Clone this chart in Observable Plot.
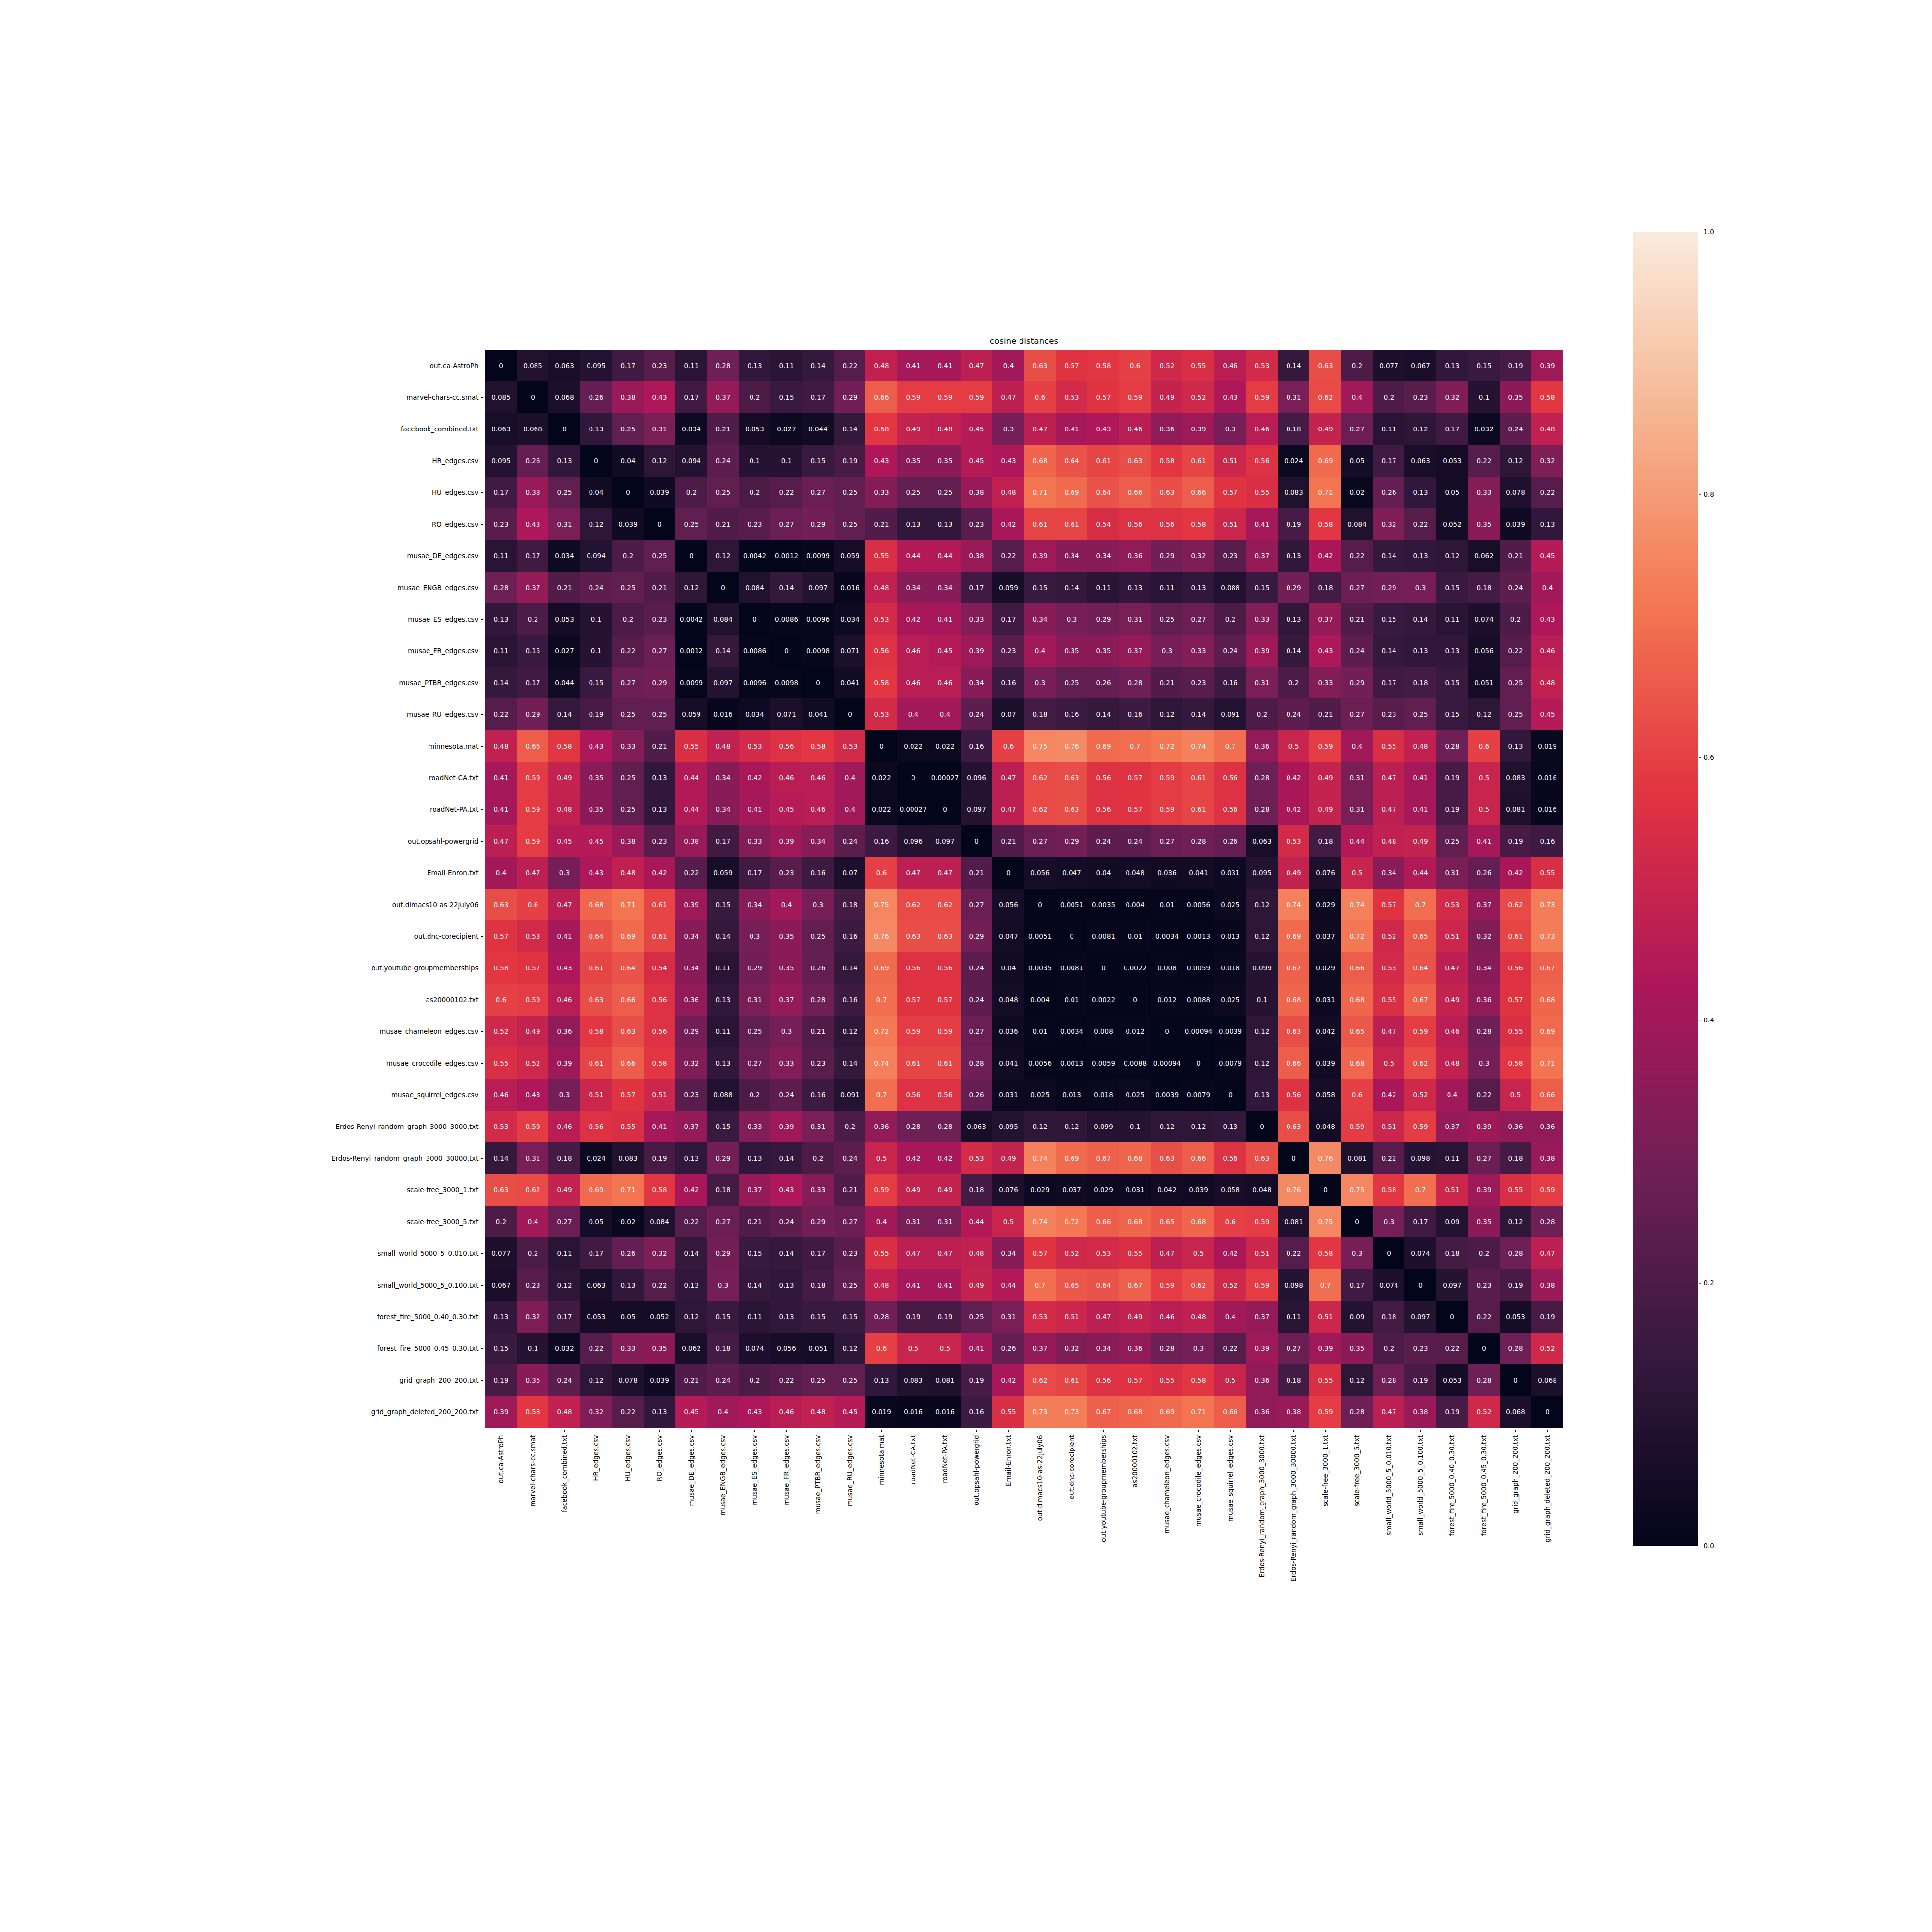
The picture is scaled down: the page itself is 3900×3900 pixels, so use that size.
<!DOCTYPE html>
<html>
<head>
<meta charset="utf-8">
<script src="https://cdn.jsdelivr.net/npm/d3@7"></script>
<script src="https://cdn.jsdelivr.net/npm/@observablehq/plot@0.6"></script>
<style>
  html, body { margin: 0; padding: 0; background: white; }
  #wrap { position: relative; width: 3900px; height: 3900px; background: white; }
  #wrap > svg { position: absolute; }
</style>
</head>
<body>
<div id="wrap"></div>
<script>
const title = "cosine distances";

const labels = [
  "out.ca-AstroPh", "marvel-chars-cc.smat", "facebook_combined.txt", "HR_edges.csv",
  "HU_edges.csv", "RO_edges.csv", "musae_DE_edges.csv", "musae_ENGB_edges.csv",
  "musae_ES_edges.csv", "musae_FR_edges.csv", "musae_PTBR_edges.csv", "musae_RU_edges.csv",
  "minnesota.mat", "roadNet-CA.txt", "roadNet-PA.txt", "out.opsahl-powergrid",
  "Email-Enron.txt", "out.dimacs10-as-22july06", "out.dnc-corecipient", "out.youtube-groupmemberships",
  "as20000102.txt", "musae_chameleon_edges.csv", "musae_crocodile_edges.csv", "musae_squirrel_edges.csv",
  "Erdos-Renyi_random_graph_3000_3000.txt", "Erdos-Renyi_random_graph_3000_30000.txt",
  "scale-free_3000_1.txt", "scale-free_3000_5.txt", "small_world_5000_5_0.010.txt",
  "small_world_5000_5_0.100.txt", "forest_fire_5000_0.40_0.30.txt", "forest_fire_5000_0.45_0.30.txt",
  "grid_graph_200_200.txt", "grid_graph_deleted_200_200.txt"
];

const distances = [
  [0, 0.085, 0.063, 0.095, 0.17, 0.23, 0.11, 0.28, 0.13, 0.11, 0.14, 0.22, 0.48, 0.41, 0.41, 0.47, 0.4, 0.63, 0.57, 0.58, 0.6, 0.52, 0.55, 0.46, 0.53, 0.14, 0.63, 0.2, 0.077, 0.067, 0.13, 0.15, 0.19, 0.39],
  [0.085, 0, 0.068, 0.26, 0.38, 0.43, 0.17, 0.37, 0.2, 0.15, 0.17, 0.29, 0.66, 0.59, 0.59, 0.59, 0.47, 0.6, 0.53, 0.57, 0.59, 0.49, 0.52, 0.43, 0.59, 0.31, 0.62, 0.4, 0.2, 0.23, 0.32, 0.1, 0.35, 0.58],
  [0.063, 0.068, 0, 0.13, 0.25, 0.31, 0.034, 0.21, 0.053, 0.027, 0.044, 0.14, 0.58, 0.49, 0.48, 0.45, 0.3, 0.47, 0.41, 0.43, 0.46, 0.36, 0.39, 0.3, 0.46, 0.18, 0.49, 0.27, 0.11, 0.12, 0.17, 0.032, 0.24, 0.48],
  [0.095, 0.26, 0.13, 0, 0.04, 0.12, 0.094, 0.24, 0.1, 0.1, 0.15, 0.19, 0.43, 0.35, 0.35, 0.45, 0.43, 0.68, 0.64, 0.61, 0.63, 0.58, 0.61, 0.51, 0.56, 0.024, 0.69, 0.05, 0.17, 0.063, 0.053, 0.22, 0.12, 0.32],
  [0.17, 0.38, 0.25, 0.04, 0, 0.039, 0.2, 0.25, 0.2, 0.22, 0.27, 0.25, 0.33, 0.25, 0.25, 0.38, 0.48, 0.71, 0.69, 0.64, 0.66, 0.63, 0.66, 0.57, 0.55, 0.083, 0.71, 0.02, 0.26, 0.13, 0.05, 0.33, 0.078, 0.22],
  [0.23, 0.43, 0.31, 0.12, 0.039, 0, 0.25, 0.21, 0.23, 0.27, 0.29, 0.25, 0.21, 0.13, 0.13, 0.23, 0.42, 0.61, 0.61, 0.54, 0.56, 0.56, 0.58, 0.51, 0.41, 0.19, 0.58, 0.084, 0.32, 0.22, 0.052, 0.35, 0.039, 0.13],
  [0.11, 0.17, 0.034, 0.094, 0.2, 0.25, 0, 0.12, 0.0042, 0.0012, 0.0099, 0.059, 0.55, 0.44, 0.44, 0.38, 0.22, 0.39, 0.34, 0.34, 0.36, 0.29, 0.32, 0.23, 0.37, 0.13, 0.42, 0.22, 0.14, 0.13, 0.12, 0.062, 0.21, 0.45],
  [0.28, 0.37, 0.21, 0.24, 0.25, 0.21, 0.12, 0, 0.084, 0.14, 0.097, 0.016, 0.48, 0.34, 0.34, 0.17, 0.059, 0.15, 0.14, 0.11, 0.13, 0.11, 0.13, 0.088, 0.15, 0.29, 0.18, 0.27, 0.29, 0.3, 0.15, 0.18, 0.24, 0.4],
  [0.13, 0.2, 0.053, 0.1, 0.2, 0.23, 0.0042, 0.084, 0, 0.0086, 0.0096, 0.034, 0.53, 0.42, 0.41, 0.33, 0.17, 0.34, 0.3, 0.29, 0.31, 0.25, 0.27, 0.2, 0.33, 0.13, 0.37, 0.21, 0.15, 0.14, 0.11, 0.074, 0.2, 0.43],
  [0.11, 0.15, 0.027, 0.1, 0.22, 0.27, 0.0012, 0.14, 0.0086, 0, 0.0098, 0.071, 0.56, 0.46, 0.45, 0.39, 0.23, 0.4, 0.35, 0.35, 0.37, 0.3, 0.33, 0.24, 0.39, 0.14, 0.43, 0.24, 0.14, 0.13, 0.13, 0.056, 0.22, 0.46],
  [0.14, 0.17, 0.044, 0.15, 0.27, 0.29, 0.0099, 0.097, 0.0096, 0.0098, 0, 0.041, 0.58, 0.46, 0.46, 0.34, 0.16, 0.3, 0.25, 0.26, 0.28, 0.21, 0.23, 0.16, 0.31, 0.2, 0.33, 0.29, 0.17, 0.18, 0.15, 0.051, 0.25, 0.48],
  [0.22, 0.29, 0.14, 0.19, 0.25, 0.25, 0.059, 0.016, 0.034, 0.071, 0.041, 0, 0.53, 0.4, 0.4, 0.24, 0.07, 0.18, 0.16, 0.14, 0.16, 0.12, 0.14, 0.091, 0.2, 0.24, 0.21, 0.27, 0.23, 0.25, 0.15, 0.12, 0.25, 0.45],
  [0.48, 0.66, 0.58, 0.43, 0.33, 0.21, 0.55, 0.48, 0.53, 0.56, 0.58, 0.53, 0, 0.022, 0.022, 0.16, 0.6, 0.75, 0.76, 0.69, 0.7, 0.72, 0.74, 0.7, 0.36, 0.5, 0.59, 0.4, 0.55, 0.48, 0.28, 0.6, 0.13, 0.019],
  [0.41, 0.59, 0.49, 0.35, 0.25, 0.13, 0.44, 0.34, 0.42, 0.46, 0.46, 0.4, 0.022, 0, 0.00027, 0.096, 0.47, 0.62, 0.63, 0.56, 0.57, 0.59, 0.61, 0.56, 0.28, 0.42, 0.49, 0.31, 0.47, 0.41, 0.19, 0.5, 0.083, 0.016],
  [0.41, 0.59, 0.48, 0.35, 0.25, 0.13, 0.44, 0.34, 0.41, 0.45, 0.46, 0.4, 0.022, 0.00027, 0, 0.097, 0.47, 0.62, 0.63, 0.56, 0.57, 0.59, 0.61, 0.56, 0.28, 0.42, 0.49, 0.31, 0.47, 0.41, 0.19, 0.5, 0.081, 0.016],
  [0.47, 0.59, 0.45, 0.45, 0.38, 0.23, 0.38, 0.17, 0.33, 0.39, 0.34, 0.24, 0.16, 0.096, 0.097, 0, 0.21, 0.27, 0.29, 0.24, 0.24, 0.27, 0.28, 0.26, 0.063, 0.53, 0.18, 0.44, 0.48, 0.49, 0.25, 0.41, 0.19, 0.16],
  [0.4, 0.47, 0.3, 0.43, 0.48, 0.42, 0.22, 0.059, 0.17, 0.23, 0.16, 0.07, 0.6, 0.47, 0.47, 0.21, 0, 0.056, 0.047, 0.04, 0.048, 0.036, 0.041, 0.031, 0.095, 0.49, 0.076, 0.5, 0.34, 0.44, 0.31, 0.26, 0.42, 0.55],
  [0.63, 0.6, 0.47, 0.68, 0.71, 0.61, 0.39, 0.15, 0.34, 0.4, 0.3, 0.18, 0.75, 0.62, 0.62, 0.27, 0.056, 0, 0.0051, 0.0035, 0.004, 0.01, 0.0056, 0.025, 0.12, 0.74, 0.029, 0.74, 0.57, 0.7, 0.53, 0.37, 0.62, 0.73],
  [0.57, 0.53, 0.41, 0.64, 0.69, 0.61, 0.34, 0.14, 0.3, 0.35, 0.25, 0.16, 0.76, 0.63, 0.63, 0.29, 0.047, 0.0051, 0, 0.0081, 0.01, 0.0034, 0.0013, 0.013, 0.12, 0.69, 0.037, 0.72, 0.52, 0.65, 0.51, 0.32, 0.61, 0.73],
  [0.58, 0.57, 0.43, 0.61, 0.64, 0.54, 0.34, 0.11, 0.29, 0.35, 0.26, 0.14, 0.69, 0.56, 0.56, 0.24, 0.04, 0.0035, 0.0081, 0, 0.0022, 0.008, 0.0059, 0.018, 0.099, 0.67, 0.029, 0.66, 0.53, 0.64, 0.47, 0.34, 0.56, 0.67],
  [0.6, 0.59, 0.46, 0.63, 0.66, 0.56, 0.36, 0.13, 0.31, 0.37, 0.28, 0.16, 0.7, 0.57, 0.57, 0.24, 0.048, 0.004, 0.01, 0.0022, 0, 0.012, 0.0088, 0.025, 0.1, 0.68, 0.031, 0.68, 0.55, 0.67, 0.49, 0.36, 0.57, 0.68],
  [0.52, 0.49, 0.36, 0.58, 0.63, 0.56, 0.29, 0.11, 0.25, 0.3, 0.21, 0.12, 0.72, 0.59, 0.59, 0.27, 0.036, 0.01, 0.0034, 0.008, 0.012, 0, 0.00094, 0.0039, 0.12, 0.63, 0.042, 0.65, 0.47, 0.59, 0.46, 0.28, 0.55, 0.69],
  [0.55, 0.52, 0.39, 0.61, 0.66, 0.58, 0.32, 0.13, 0.27, 0.33, 0.23, 0.14, 0.74, 0.61, 0.61, 0.28, 0.041, 0.0056, 0.0013, 0.0059, 0.0088, 0.00094, 0, 0.0079, 0.12, 0.66, 0.039, 0.68, 0.5, 0.62, 0.48, 0.3, 0.58, 0.71],
  [0.46, 0.43, 0.3, 0.51, 0.57, 0.51, 0.23, 0.088, 0.2, 0.24, 0.16, 0.091, 0.7, 0.56, 0.56, 0.26, 0.031, 0.025, 0.013, 0.018, 0.025, 0.0039, 0.0079, 0, 0.13, 0.56, 0.058, 0.6, 0.42, 0.52, 0.4, 0.22, 0.5, 0.66],
  [0.53, 0.59, 0.46, 0.56, 0.55, 0.41, 0.37, 0.15, 0.33, 0.39, 0.31, 0.2, 0.36, 0.28, 0.28, 0.063, 0.095, 0.12, 0.12, 0.099, 0.1, 0.12, 0.12, 0.13, 0, 0.63, 0.048, 0.59, 0.51, 0.59, 0.37, 0.39, 0.36, 0.36],
  [0.14, 0.31, 0.18, 0.024, 0.083, 0.19, 0.13, 0.29, 0.13, 0.14, 0.2, 0.24, 0.5, 0.42, 0.42, 0.53, 0.49, 0.74, 0.69, 0.67, 0.68, 0.63, 0.66, 0.56, 0.63, 0, 0.76, 0.081, 0.22, 0.098, 0.11, 0.27, 0.18, 0.38],
  [0.63, 0.62, 0.49, 0.69, 0.71, 0.58, 0.42, 0.18, 0.37, 0.43, 0.33, 0.21, 0.59, 0.49, 0.49, 0.18, 0.076, 0.029, 0.037, 0.029, 0.031, 0.042, 0.039, 0.058, 0.048, 0.76, 0, 0.75, 0.58, 0.7, 0.51, 0.39, 0.55, 0.59],
  [0.2, 0.4, 0.27, 0.05, 0.02, 0.084, 0.22, 0.27, 0.21, 0.24, 0.29, 0.27, 0.4, 0.31, 0.31, 0.44, 0.5, 0.74, 0.72, 0.66, 0.68, 0.65, 0.68, 0.6, 0.59, 0.081, 0.75, 0, 0.3, 0.17, 0.09, 0.35, 0.12, 0.28],
  [0.077, 0.2, 0.11, 0.17, 0.26, 0.32, 0.14, 0.29, 0.15, 0.14, 0.17, 0.23, 0.55, 0.47, 0.47, 0.48, 0.34, 0.57, 0.52, 0.53, 0.55, 0.47, 0.5, 0.42, 0.51, 0.22, 0.58, 0.3, 0, 0.074, 0.18, 0.2, 0.28, 0.47],
  [0.067, 0.23, 0.12, 0.063, 0.13, 0.22, 0.13, 0.3, 0.14, 0.13, 0.18, 0.25, 0.48, 0.41, 0.41, 0.49, 0.44, 0.7, 0.65, 0.64, 0.67, 0.59, 0.62, 0.52, 0.59, 0.098, 0.7, 0.17, 0.074, 0, 0.097, 0.23, 0.19, 0.38],
  [0.13, 0.32, 0.17, 0.053, 0.05, 0.052, 0.12, 0.15, 0.11, 0.13, 0.15, 0.15, 0.28, 0.19, 0.19, 0.25, 0.31, 0.53, 0.51, 0.47, 0.49, 0.46, 0.48, 0.4, 0.37, 0.11, 0.51, 0.09, 0.18, 0.097, 0, 0.22, 0.053, 0.19],
  [0.15, 0.1, 0.032, 0.22, 0.33, 0.35, 0.062, 0.18, 0.074, 0.056, 0.051, 0.12, 0.6, 0.5, 0.5, 0.41, 0.26, 0.37, 0.32, 0.34, 0.36, 0.28, 0.3, 0.22, 0.39, 0.27, 0.39, 0.35, 0.2, 0.23, 0.22, 0, 0.28, 0.52],
  [0.19, 0.35, 0.24, 0.12, 0.078, 0.039, 0.21, 0.24, 0.2, 0.22, 0.25, 0.25, 0.13, 0.083, 0.081, 0.19, 0.42, 0.62, 0.61, 0.56, 0.57, 0.55, 0.58, 0.5, 0.36, 0.18, 0.55, 0.12, 0.28, 0.19, 0.053, 0.28, 0, 0.068],
  [0.39, 0.58, 0.48, 0.32, 0.22, 0.13, 0.45, 0.4, 0.43, 0.46, 0.48, 0.45, 0.019, 0.016, 0.016, 0.16, 0.55, 0.73, 0.73, 0.67, 0.68, 0.69, 0.71, 0.66, 0.36, 0.38, 0.59, 0.28, 0.47, 0.38, 0.19, 0.52, 0.068, 0]
];

const colorbarTicks = [0, 0.2, 0.4, 0.6, 0.8, 1.0];

// seaborn "rocket" colormap stops
const rocketStops = [0, 1/7, 2/7, 3/7, 4/7, 5/7, 6/7, 1];
const rocketColors = ["#03051a", "#35193e", "#701f57", "#ad1759", "#e13342", "#f37651", "#f6b48f", "#faebdd"];

const colorScale = {type: "linear", domain: rocketStops, range: rocketColors, interpolate: "rgb"};

const cells = [];
distances.forEach((row, i) => row.forEach((v, j) => cells.push({row: labels[i], col: labels[j], value: v})));

const fmt = d3.format(".2~g");
const FONT = "DejaVu Sans";

const main = Plot.plot({
  width: 3900,
  height: 3900,
  marginLeft: 975,
  marginRight: 742,
  marginTop: 702,
  marginBottom: 1014,
  style: {fontFamily: FONT, fontSize: "13.4px", color: "black", background: "white"},
  x: {domain: labels, padding: 0, tickRotate: -90, tickSize: 5, tickPadding: 5, label: null},
  y: {domain: labels, padding: 0, tickSize: 5, tickPadding: 5, label: null},
  color: colorScale,
  marks: [
    Plot.cell(cells, {x: "col", y: "row", fill: "value", shapeRendering: "crispEdges"}),
    Plot.text(cells, {x: "col", y: "row", text: d => fmt(d.value), fill: "white", fontSize: 13.4, fontFamily: FONT}),
    Plot.text([title], {frameAnchor: "top", lineAnchor: "bottom", dy: -9, fontSize: 16.7, fontFamily: FONT, fill: "black"})
  ]
});
main.style.left = "0px";
main.style.top = "0px";

const gradientSteps = d3.range(0, 1, 0.002);
const bar = Plot.plot({
  width: 210,
  height: 2672,
  marginLeft: 0,
  marginRight: 78,
  marginTop: 10,
  marginBottom: 10,
  style: {fontFamily: FONT, fontSize: "13.4px", color: "black", background: "transparent"},
  x: {domain: [0, 1], axis: null},
  y: {domain: [0, 1], axis: "right", ticks: colorbarTicks, tickFormat: ".1f", tickSize: 5, tickPadding: 5, label: null},
  color: colorScale,
  marks: [
    Plot.rect(gradientSteps, {x1: 0, x2: 1, y1: d => d, y2: d => Math.min(1, d + 0.002), fill: d => d + 0.001, shapeRendering: "crispEdges"})
  ]
});
bar.style.left = "3296px";
bar.style.top = "458px";

const wrap = document.getElementById("wrap");
wrap.appendChild(main);
wrap.appendChild(bar);
</script>
</body>
</html>
